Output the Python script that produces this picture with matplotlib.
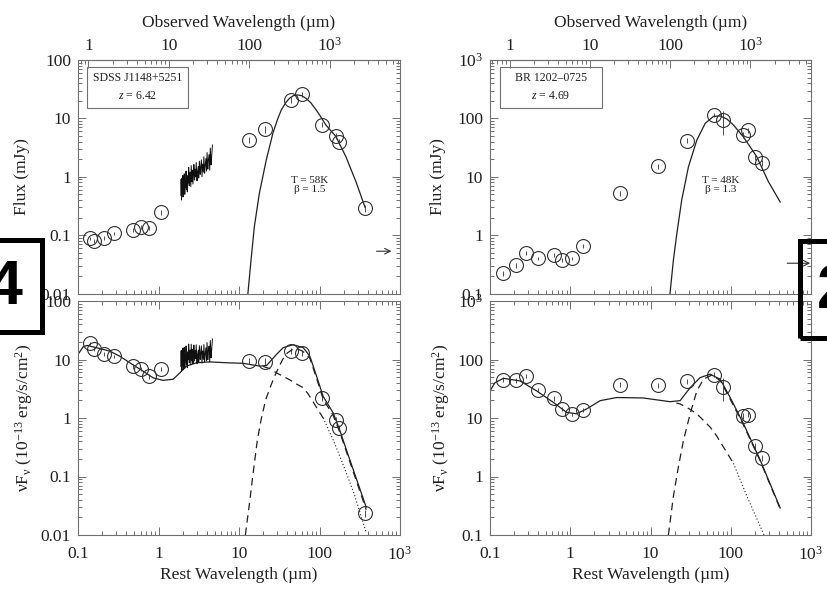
import numpy as np
import matplotlib.pyplot as plt
from matplotlib.patches import Rectangle
from matplotlib.ticker import FixedLocator, FuncFormatter, LogLocator, NullFormatter

plt.rcParams['font.family'] = ['Liberation Serif', 'DejaVu Serif']
plt.rcParams['mathtext.fontset'] = 'custom'
plt.rcParams['mathtext.rm'] = 'Liberation Serif'
plt.rcParams['mathtext.it'] = 'Liberation Serif:italic'
plt.rcParams['mathtext.bf'] = 'Liberation Serif:bold'

# ---------------- SDSS J1148+5251, z = 6.42 ----------------
j1148_z = 6.42
# photometry: rest wavelength (micron), flux density (mJy), error (mJy)
j1148_wave = [0.139, 0.160, 0.213, 0.284, 0.48, 0.61, 0.77, 1.06,
              13.5, 21.2, 44.5, 61.0, 108, 161, 177, 365]
j1148_flux = [0.088, 0.080, 0.089, 0.107, 0.122, 0.139, 0.133, 0.245,
              4.26, 6.5, 21.0, 26.0, 7.8, 5.0, 4.0, 0.287]
j1148_err = [0.006, 0.006, 0.006, 0.008, 0.01, 0.012, 0.012, 0.02,
             0.5, 0.9, 2.5, 2.6, 0.7, 0.6, 0.5, 0.04]
# IRS spectrum (mJy)
j1148_spec_wave = [1.90, 1.91, 1.93, 1.95, 1.96, 1.99, 2.01, 2.02, 2.05, 2.08,
                   2.09, 2.12, 2.15, 2.17, 2.20, 2.22, 2.26, 2.28, 2.32, 2.35,
                   2.37, 2.41, 2.45, 2.47, 2.52, 2.55, 2.60, 2.63, 2.68, 2.72,
                   2.75, 2.81, 2.85, 2.90, 2.94, 3.01, 3.05, 3.12, 3.16, 3.22,
                   3.30, 3.34, 3.41, 3.47, 3.53, 3.61, 3.66, 3.74, 3.80, 3.88,
                   3.95, 4.01, 4.10, 4.16, 4.25, 4.33, 4.40, 4.50, 4.57, 4.68]
j1148_spec_flux = [0.48, 0.90, 0.40, 0.62, 0.95, 0.52, 1.05, 0.45, 0.72, 0.58,
                   1.12, 0.50, 0.85, 0.66, 1.25, 0.60, 0.98, 0.55, 1.05, 0.78,
                   1.45, 0.70, 0.92, 1.20, 0.68, 1.55, 0.82, 1.30, 0.75, 1.10,
                   1.62, 0.88, 1.35, 1.00, 1.75, 0.85, 1.20, 1.50, 0.95, 1.85,
                   1.10, 1.40, 1.95, 1.00, 1.65, 1.20, 2.20, 1.15, 1.55, 2.05,
                   1.25, 2.60, 1.35, 1.90, 2.40, 1.30, 3.10, 1.60, 2.20, 3.50]
# greybody fit (T = 58 K, beta = 1.5), mJy
j1148_grey_wave = [12.9, 14.1, 15.5, 17.9, 21.8, 26.3, 30.0, 33.5, 38.0, 42.4,
                   47.5, 53.5, 60.0, 68.0, 78.0, 91.0, 100, 120, 160, 213, 284, 368]
j1148_grey_flux = [0.01, 0.037, 0.139, 0.52, 1.93, 5.5, 9.5, 13.9, 18.5, 22.1,
                   24.5, 25.2, 24.5, 22.0, 18.5, 13.9, 11.5, 7.7, 4.9, 2.2, 0.82, 0.3]
# radio upper limit arrow (rest micron, mJy)
j1148_limit_wave = [511, 783]
j1148_limit_flux = 0.053
# SED model in nu F_nu (1e-13 erg/s/cm^2)
j1148_total_wave = [0.1, 0.116, 0.13, 0.17, 0.248, 0.33, 0.44, 0.645, 0.86, 1.14,
                    1.52, 1.84, 2.22, 2.96, 4.33, 6.98, 11.3, 18.2, 22.0, 29.2,
                    35.3, 47.0, 62.8, 75.9, 91.9, 111, 148, 178, 215, 380]
j1148_total_nufnu = [12.2, 16.5, 17.4, 15.9, 13.9, 11.4, 8.8, 6.3, 4.85, 4.4,
                     4.6, 5.9, 7.7, 8.8, 9.1, 8.8, 8.6, 7.7, 7.9, 12.2,
                     15.9, 17.9, 15.9, 11.4, 5.2, 2.34, 1.22, 0.63, 0.29, 0.03]
j1148_torus_wave = [20, 24, 29.2, 35, 42.6, 52, 62.8, 72, 82.6, 95, 111]
j1148_torus_nufnu = [7.6, 7.0, 5.9, 5.2, 4.5, 3.8, 3.3, 2.6, 1.93, 1.4, 1.0]
j1148_torus_ext_wave = [111, 148, 200, 270, 380]
j1148_torus_ext_nufnu = [1.0, 0.42, 0.15, 0.05, 0.011]
j1148_cold_wave = [12.0, 13.5, 14.8, 16.9, 19.0, 21.5, 25.3, 28.9, 34.8, 40.0,
                   46.6, 54.0, 61.7, 75.9, 91.9, 111, 148, 178, 215, 380]
j1148_cold_nufnu = [0.01, 0.035, 0.1, 0.42, 1.0, 2.07, 3.8, 5.9, 10.0, 13.0,
                    14.9, 15.0, 13.9, 10.5, 4.8, 2.1, 1.1, 0.58, 0.27, 0.027]

# ---------------- BR 1202-0725, z = 4.69 ----------------
br1202_z = 4.69
br1202_wave = [0.147, 0.211, 0.281, 0.394, 0.628, 0.78, 1.04, 1.43, 4.2,
               12.5, 28.8, 62.0, 81.0, 144, 166, 201, 244]
br1202_flux = [0.222, 0.308, 0.488, 0.40, 0.456, 0.375, 0.40, 0.65, 5.2,
               15.0, 41.3, 114, 92, 51.8, 63, 22, 17]
br1202_err = [0.02, 0.03, 0.04, 0.03, 0.04, 0.03, 0.03, 0.05, 0.5,
              1.5, 4.0, 10, 40, 6, 6, 3, 2]
br1202_grey_wave = [17.5, 19.3, 21.3, 24.5, 29.7, 37.8, 48.0, 60.9, 73.8,
                    90.0, 108, 144, 211, 295, 413]
br1202_grey_flux = [0.1, 0.375, 1.07, 4.0, 14.8, 42.5, 82, 108, 110,
                    97, 77, 48, 22, 8.2, 3.7]
br1202_limit_wave = [505, 977]
br1202_limit_flux = 0.33
br1202_total_wave = [0.1, 0.115, 0.147, 0.237, 0.382, 0.615, 0.90, 1.2, 1.6, 2.36,
                     3.8, 8.1, 17.5, 23.4, 31.2, 41.5, 55.3, 73.8, 98.4, 144, 233, 413]
br1202_total_nufnu = [29, 40, 47.7, 43, 29, 18.5, 12.5, 11.8, 14.3, 19.8,
                      22.4, 22, 19, 19.8, 33, 49, 56, 46, 22.4, 8, 1.9, 0.29]
br1202_torus_wave = [21, 23.4, 30, 37.8, 45, 55.3, 67, 81, 108]
br1202_torus_nufnu = [18, 17.4, 14.5, 11.8, 9.3, 7.0, 4.9, 3.2, 1.68]
br1202_torus_ext_wave = [108, 159, 260]
br1202_torus_ext_nufnu = [1.68, 0.46, 0.1]
br1202_cold_wave = [16.7, 19.3, 22.3, 25.8, 31.2, 37.8, 45.7, 57.7, 73.8,
                    98.4, 144, 233, 413]
br1202_cold_nufnu = [0.1, 0.46, 1.48, 4.2, 11.8, 29, 46, 54, 44,
                     21, 7.6, 1.85, 0.28]


def nufnu(wave, flux):
    # rest-frame nu*F_nu in 1e-13 erg/s/cm^2 from F_nu (mJy) and rest wavelength (micron)
    return 30.0 * np.asarray(flux) / np.asarray(wave)


def log_label(v, pos):
    if v >= 999:
        return r'$10^{%d}$' % round(np.log10(v))
    if v >= 1:
        return '%d' % round(v)
    return '%g' % v


FRAME = '#707070'
INK = '#202020'
FS = 12.5


def style_axis(ax, ylim, top_ticks=True, xlabels=True):
    ax.set_xscale('log')
    ax.set_yscale('log')
    ax.set_xlim(0.1, 1000)
    ax.set_ylim(*ylim)
    for axis in (ax.xaxis, ax.yaxis):
        axis.set_major_locator(FixedLocator([0.01, 0.1, 1, 10, 100, 1000]))
        axis.set_minor_locator(LogLocator(base=10, subs=np.arange(2, 10), numticks=20))
        axis.set_minor_formatter(NullFormatter())
    ax.xaxis.set_major_formatter(FuncFormatter(log_label) if xlabels else NullFormatter())
    ax.yaxis.set_major_formatter(FuncFormatter(log_label))
    ax.tick_params(which='both', direction='in', top=top_ticks, right=True,
                   color=FRAME, labelsize=FS, labelcolor=INK, width=0.7)
    ax.tick_params(which='major', length=6, pad=5)
    ax.tick_params(axis='x', which='major', pad=8)
    ax.tick_params(which='minor', length=3)
    for s in ax.spines.values():
        s.set_color(FRAME)
        s.set_linewidth(0.8)


def observed_axis(ax, z):
    sec = ax.secondary_xaxis('top', functions=(lambda x, f=1 + z: x * f,
                                               lambda x, f=1 + z: x / f))
    sec.xaxis.set_major_locator(FixedLocator([1, 10, 100, 1000]))
    sec.xaxis.set_minor_locator(LogLocator(base=10, subs=np.arange(2, 10), numticks=20))
    sec.xaxis.set_major_formatter(FuncFormatter(log_label))
    sec.xaxis.set_minor_formatter(NullFormatter())
    sec.tick_params(which='both', direction='in', color=FRAME, labelsize=FS,
                    labelcolor=INK, width=0.7)
    sec.tick_params(which='major', length=6, pad=4)
    sec.tick_params(which='minor', length=3)
    sec.spines['top'].set_color(FRAME)
    sec.set_xlabel('Observed Wavelength (µm)', fontsize=FS, color=INK, labelpad=7)


def draw_points(ax, wave, val, err):
    ax.errorbar(wave, val, yerr=err, fmt='o', ms=10, mfc='none', mec='#303030',
                mew=0.8, ecolor='#303030', elinewidth=0.6, capsize=0, zorder=4)


def draw_source(ax_top, ax_bot, z, title, ztext, fit_text, ylim_top, ylim_bot,
                wave, flux, err, grey_wave, grey_flux, limit_wave, limit_flux,
                total_wave, total_nufnu, torus_wave, torus_nufnu,
                torus_ext_wave, torus_ext_nufnu, cold_wave, cold_nufnu,
                box, spec_wave=None, spec_flux=None):
    # observed-frame flux density
    style_axis(ax_top, ylim_top, top_ticks=False, xlabels=False)
    observed_axis(ax_top, z)
    ax_top.plot(grey_wave, grey_flux, color=INK, lw=0.9)
    draw_points(ax_top, wave, flux, err)
    if spec_wave is not None:
        ax_top.plot(spec_wave, spec_flux, color='#101010', lw=0.7)
    ax_top.annotate('', xy=(limit_wave[1], limit_flux), xytext=(limit_wave[0], limit_flux),
                    arrowprops=dict(arrowstyle='->', color='#303030', lw=0.8,
                                    shrinkA=0, shrinkB=0))
    ax_top.set_ylabel('Flux (mJy)', fontsize=FS, color=INK, labelpad=8)
    x0, y0, x1, y1 = box
    ax_top.add_patch(Rectangle((x0, y0), x1 - x0, y1 - y0, transform=ax_top.transAxes,
                               fill=False, ec=FRAME, lw=0.8))
    ax_top.text((x0 + x1) / 2, y0 + 0.72 * (y1 - y0), title, transform=ax_top.transAxes,
                ha='center', va='center', fontsize=8.5, color=INK)
    ax_top.text((x0 + x1) / 2, y0 + 0.30 * (y1 - y0), ztext, transform=ax_top.transAxes,
                ha='center', va='center', fontsize=8.5, color=INK)
    ax_top.text(0.72, 0.465, fit_text, transform=ax_top.transAxes, ha='center',
                va='center', fontsize=8, color=INK, linespacing=1.0)

    # rest-frame SED decomposition
    style_axis(ax_bot, ylim_bot)
    ax_bot.plot(total_wave, total_nufnu, color=INK, lw=0.9)
    ax_bot.plot(torus_wave, torus_nufnu, color=INK, lw=0.9, ls=(0, (6, 4)))
    ax_bot.plot(torus_ext_wave, torus_ext_nufnu, color=INK, lw=0.8, ls=(0, (1, 2)))
    ax_bot.plot(cold_wave, cold_nufnu, color=INK, lw=0.9, ls=(0, (6, 4)))
    draw_points(ax_bot, wave, nufnu(wave, flux), nufnu(wave, err))
    if spec_wave is not None:
        ax_bot.plot(spec_wave, nufnu(spec_wave, spec_flux), color='#101010', lw=0.7)
    ax_bot.set_xlabel('Rest Wavelength (µm)', fontsize=FS, color=INK, labelpad=2)
    ax_bot.set_ylabel(r'$\mathrm{\nu F_{\nu}}$ (10$^{-13}$ erg/s/cm$^{2}$)',
                      fontsize=FS, color=INK, labelpad=4)


W, H = 827, 591
fig = plt.figure(figsize=(W / 100, H / 100), dpi=100)


def px_axes(left, top, right, bottom):
    return fig.add_axes([left / W, 1 - bottom / H, (right - left) / W, (bottom - top) / H])


ax1 = px_axes(78, 60, 400, 293.5)
ax2 = px_axes(78, 301, 400, 535)
ax3 = px_axes(490, 60, 811, 293.5)
ax4 = px_axes(490, 301, 811, 535)

draw_source(ax1, ax2, j1148_z, 'SDSS J1148+5251', r'$z$ = 6.42', 'T = 58K\nβ = 1.5',
            (0.01, 100), (0.01, 100), j1148_wave, j1148_flux, j1148_err,
            j1148_grey_wave, j1148_grey_flux, j1148_limit_wave, j1148_limit_flux,
            j1148_total_wave, j1148_total_nufnu, j1148_torus_wave, j1148_torus_nufnu,
            j1148_torus_ext_wave, j1148_torus_ext_nufnu, j1148_cold_wave, j1148_cold_nufnu,
            (0.028, 0.795, 0.342, 0.97), j1148_spec_wave, j1148_spec_flux)

draw_source(ax3, ax4, br1202_z, 'BR 1202–0725', r'$z$ = 4.69', 'T = 48K\nβ = 1.3',
            (0.1, 1000), (0.1, 1000), br1202_wave, br1202_flux, br1202_err,
            br1202_grey_wave, br1202_grey_flux, br1202_limit_wave, br1202_limit_flux,
            br1202_total_wave, br1202_total_nufnu, br1202_torus_wave, br1202_torus_nufnu,
            br1202_torus_ext_wave, br1202_torus_ext_nufnu, br1202_cold_wave, br1202_cold_nufnu,
            (0.031, 0.795, 0.349, 0.97))

# figure number tabs at the page edges
fig.add_artist(Rectangle((-20 / W, 1 - 332 / H), 62 / W, 92 / H, transform=fig.transFigure,
                         fill=False, ec='black', lw=3.6, zorder=10))
fig.text(23 / W, 1 - 288 / H, '4', ha='right', va='center', fontsize=45,
         fontweight='bold', family='Liberation Sans', color='black')
fig.add_artist(Rectangle((800 / W, 1 - 338 / H), 60 / W, 97 / H, transform=fig.transFigure,
                         fill=False, ec='black', lw=3.6, zorder=10))
fig.text(817 / W, 1 - 292 / H, '2', ha='left', va='center', fontsize=45,
         fontweight='bold', family='Liberation Sans', color='black')

fig.savefig('out.png', dpi=100)
